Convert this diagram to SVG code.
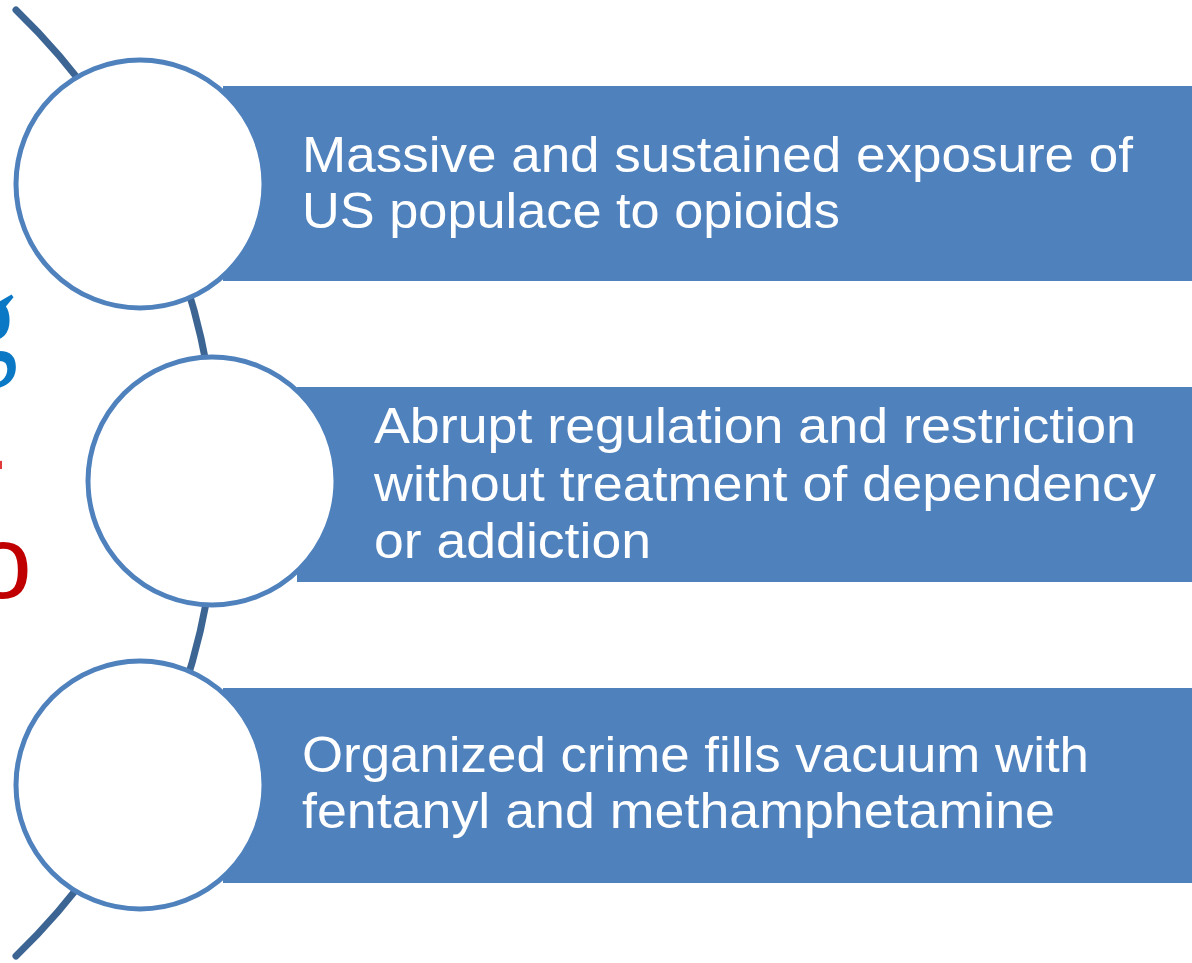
<svg xmlns="http://www.w3.org/2000/svg" width="1192" height="963" viewBox="0 0 1192 963">
<style>
.bar{fill:#4F81BD}
.ring{fill:#FFFFFF;stroke:#4F81BD;stroke-width:5}
.lbl{font-family:"Liberation Sans",Arial,sans-serif;font-size:50px;fill:#FFFFFF}
.edge{font-family:"Liberation Sans",Arial,sans-serif;font-size:104px}
</style>
<rect width="1192" height="963" fill="#FFFFFF"/>
<g id="title-edge">
<text x="-38" y="352" fill="#0A78C4" font-family="'Liberation Serif',serif" font-size="112" transform="translate(0,-44) scale(1,1.15)">g</text>
<text class="edge" x="-28" y="493" fill="#E03A3A">-</text>
<text class="edge" x="-26" y="598" fill="#C00000">o</text>
</g>
<g id="connectors">
<path d="M 16 10 A 657 657 0 0 1 16 956" fill="none" stroke="#3D6594" stroke-width="7" stroke-linecap="round"/>
</g>
<g id="node1">
<rect class="bar" x="223" y="86" width="969" height="195"/>
<circle class="ring" cx="140" cy="184" r="124"/>
<text class="lbl" x="302" y="172" textLength="831" lengthAdjust="spacingAndGlyphs">Massive and sustained exposure of</text>
<text class="lbl" x="302" y="228" textLength="538" lengthAdjust="spacingAndGlyphs">US populace to opioids</text>
</g>
<g id="node2">
<rect class="bar" x="297" y="387" width="895" height="195"/>
<circle class="ring" cx="212" cy="481" r="124"/>
<text class="lbl" x="374" y="443" textLength="762" lengthAdjust="spacingAndGlyphs">Abrupt regulation and restriction</text>
<text class="lbl" x="374" y="501" textLength="782" lengthAdjust="spacingAndGlyphs">without treatment of dependency</text>
<text class="lbl" x="374" y="558" textLength="277" lengthAdjust="spacingAndGlyphs">or addiction</text>
</g>
<g id="node3">
<rect class="bar" x="223" y="688" width="969" height="195"/>
<circle class="ring" cx="140" cy="785" r="124"/>
<text class="lbl" x="302" y="772" textLength="787" lengthAdjust="spacingAndGlyphs">Organized crime fills vacuum with</text>
<text class="lbl" x="302" y="828" textLength="753" lengthAdjust="spacingAndGlyphs">fentanyl and methamphetamine</text>
</g>
</svg>
